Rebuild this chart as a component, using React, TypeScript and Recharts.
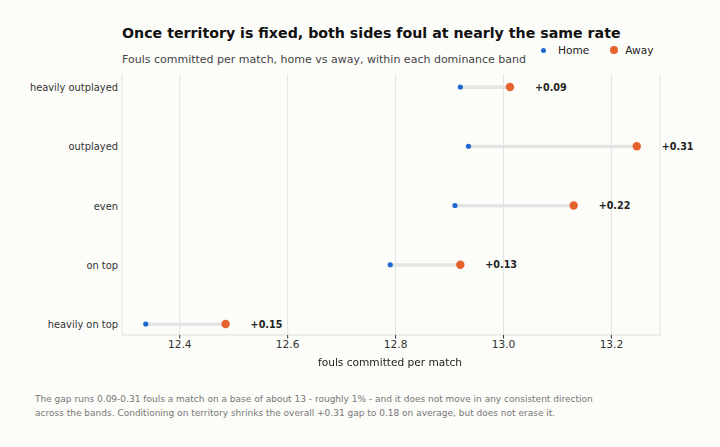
import { ComposedChart, Bar, Line, XAxis, YAxis, CartesianGrid, LabelList } from 'recharts';

const bands = ['heavily outplayed', 'outplayed', 'even', 'on top', 'heavily on top'];
const homeFouls = [12.92, 12.935, 12.91, 12.79, 12.337];
const awayFouls = [13.012, 13.247, 13.13, 12.92, 12.485];
const gapLabels = ['+0.09', '+0.31', '+0.22', '+0.13', '+0.15'];
const xTicks = [12.4, 12.6, 12.8, 13.0, 13.2];

const HOME = '#1f68cf';
const AWAY = '#e5622f';
const FONT = '"DejaVu Sans", sans-serif';

const data = bands.map((band, i) => ({
  band,
  home: homeFouls[i],
  away: awayFouls[i],
  range: [homeFouls[i], awayFouls[i]],
  gap: gapLabels[i],
}));

function GapLabel(props: any) {
  const { x, y, value } = props;
  return (
    <text x={x + 25} y={y} dy={3.5} fontSize={9.6} fontWeight="bold" fill="#222" fontFamily={FONT}>
      {value}
    </text>
  );
}

// y labels sit right against the left spine
function BandTick(props: any) {
  const { y, payload } = props;
  return (
    <text x={118} y={y} dy={4} textAnchor="end" fontSize={9.9} fill="#333" fontFamily={FONT}>
      {payload.value}
    </text>
  );
}

export default function App() {
  return (
    <div style={{ position: 'fixed', left: 0, top: 0, width: 720, height: 447, background: '#fcfcf9', fontFamily: FONT }}>
      <div style={{ position: 'absolute', left: 122, top: 25, fontSize: 14.2, fontWeight: 'bold', color: '#111' }}>
        Once territory is fixed, both sides foul at nearly the same rate
      </div>
      <div style={{ position: 'absolute', left: 122, top: 53, fontSize: 11, color: '#444' }}>
        Fouls committed per match, home vs away, within each dominance band
      </div>
      <div style={{ position: 'absolute', left: 541, top: 44, fontSize: 10.6, color: '#222', display: 'flex', alignItems: 'center' }}>
        <span style={{ width: 5, height: 5, borderRadius: 3, background: HOME, display: 'inline-block', marginRight: 12 }} />
        <span style={{ marginRight: 21 }}>Home</span>
        <span style={{ width: 8, height: 8, borderRadius: 4, background: AWAY, display: 'inline-block', marginRight: 7 }} />
        <span>Away</span>
      </div>

      <ComposedChart
        width={720}
        height={447}
        data={data}
        layout="vertical"
        margin={{ top: 74, right: 60, bottom: 82, left: 0 }}
      >
        <CartesianGrid horizontal={false} stroke="#e3e3e3" />
        <XAxis
          type="number"
          domain={[12.293, 13.29]}
          ticks={xTicks}
          tickFormatter={(v) => v.toFixed(1)}
          tick={{ fontSize: 10.6, fill: '#333', fontFamily: FONT }}
          tickSize={3.5}
          tickLine={{ stroke: '#333' }}
          axisLine={{ stroke: '#dcdcdc' }}
          height={30}
        />
        <YAxis
          type="category"
          dataKey="band"
          scale="point"
          padding={{ top: 13, bottom: 11 }}
          width={122}
          tick={<BandTick />}
          tickLine={false}
          axisLine={{ stroke: '#ececec' }}
        />
        <Bar dataKey="range" barSize={3.5} fill="#e4e4e4" isAnimationActive={false} />
        <Line
          dataKey="home"
          stroke="none"
          dot={{ r: 2.6, fill: HOME, stroke: 'none' }}
          activeDot={false}
          isAnimationActive={false}
        />
        <Line
          dataKey="away"
          stroke="none"
          dot={{ r: 4.2, fill: AWAY, stroke: 'none' }}
          activeDot={false}
          isAnimationActive={false}
        >
          <LabelList dataKey="gap" content={<GapLabel />} />
        </Line>
      </ComposedChart>

      <div style={{ position: 'absolute', left: 0, width: 780, top: 356, textAlign: 'center', fontSize: 10.6, color: '#222' }}>
        fouls committed per match
      </div>
      <div style={{ position: 'absolute', left: 35, top: 393, fontSize: 9, color: '#777', lineHeight: '13.5px' }}>
        The gap runs 0.09-0.31 fouls a match on a base of about 13 - roughly 1% - and it does not move in any consistent direction
        <br />
        across the bands. Conditioning on territory shrinks the overall +0.31 gap to 0.18 on average, but does not erase it.
      </div>
    </div>
  );
}
